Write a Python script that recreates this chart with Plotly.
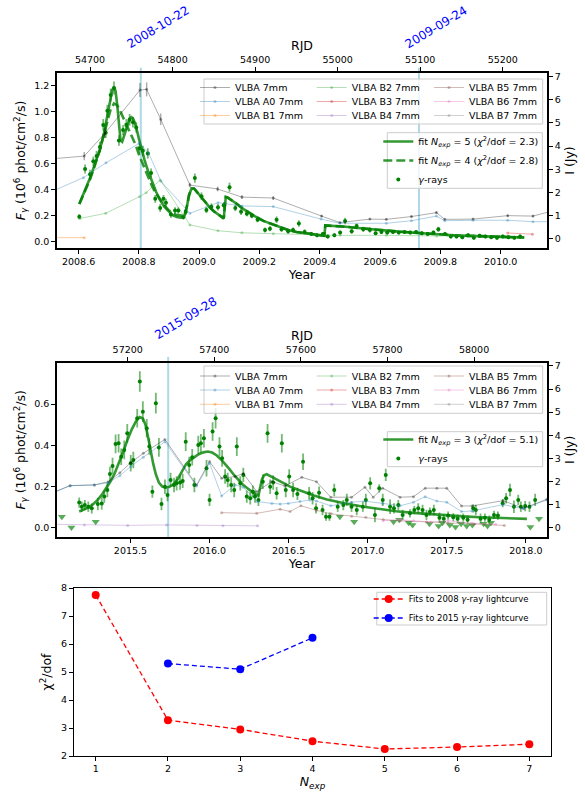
import plotly.graph_objects as go

W, H = 585, 792
FONT = "DejaVu Sans"

# ======================= DATA : 2008 flare =======================
year_ticks_08 = [2008.6, 2008.8, 2009.0, 2009.2, 2009.4, 2009.6, 2009.8, 2010.0]
rjd_ticks_08 = [54700, 54800, 54900, 55000, 55100, 55200]
flare_dates_08 = ["2008-10-22", "2009-09-24"]
flare_rjd_08 = [54761.5, 55098.5]

g08_rjd = [54687, 54694, 54700, 54704, 54708, 54712, 54716, 54719, 54721, 54725,
           54729, 54735, 54740, 54744, 54748, 54752, 54756, 54760, 54764, 54770,
           54774, 54779, 54785, 54789, 54792, 54798, 54803, 54807, 54813, 54816,
           54827, 54835, 54841, 54847, 54855, 54862, 54869, 54876, 54883, 54890,
           54896, 54903, 54912, 54918, 54926, 54932, 54940, 54946, 54953, 54960,
           54968, 54975, 54982, 54988, 54996, 55003, 55009, 55017, 55023, 55031,
           55039, 55046, 55053, 55060, 55067, 55074, 55081, 55088, 55095, 55102,
           55109, 55116, 55122, 55130, 55137, 55144, 55151, 55158, 55165, 55172,
           55179, 55186, 55193, 55200, 55207, 55214, 55221]
g08_flux = [0.193, 0.56, 0.52, 0.62, 0.66, 0.73, 0.90, 0.84, 1.01, 1.13,
            1.185, 0.78, 0.86, 0.90, 0.94, 0.92, 0.88, 0.72, 0.70, 0.68,
            0.53, 0.33, 0.26, 0.33, 0.30, 0.21, 0.24, 0.24, 0.19, 0.23,
            0.49, 0.35, 0.245, 0.27, 0.265, 0.28, 0.42, 0.26, 0.23, 0.215,
            0.20, 0.17, 0.09, 0.10, 0.17, 0.095, 0.08, 0.09, 0.14, 0.075,
            0.06, 0.05, 0.06, 0.04, 0.05, 0.07, 0.16, 0.08, 0.12, 0.095,
            0.09, 0.065, 0.075, 0.07, 0.075, 0.07, 0.075, 0.07, 0.075, 0.065,
            0.06, 0.07, 0.095, 0.06, 0.04, 0.04, 0.035, 0.05, 0.03, 0.045,
            0.04, 0.035, 0.03, 0.04, 0.035, 0.03, 0.04]
g08_err = [0.02, 0.035, 0.035, 0.035, 0.04, 0.04, 0.045, 0.04, 0.045, 0.05,
           0.05, 0.04, 0.04, 0.045, 0.045, 0.04, 0.04, 0.04, 0.04, 0.04,
           0.035, 0.03, 0.03, 0.03, 0.03, 0.025, 0.025, 0.025, 0.02, 0.025,
           0.035, 0.03, 0.025, 0.025, 0.025, 0.025, 0.035, 0.025, 0.025, 0.02,
           0.02, 0.02, 0.02, 0.02, 0.025, 0.02, 0.02, 0.02, 0.025, 0.02,
           0.015, 0.015, 0.015, 0.015, 0.015, 0.015, 0.025, 0.02, 0.02, 0.02,
           0.02, 0.015, 0.015, 0.015, 0.015, 0.015, 0.015, 0.015, 0.015, 0.015,
           0.015, 0.015, 0.02, 0.015, 0.015, 0.015, 0.015, 0.015, 0.015, 0.015,
           0.015, 0.015, 0.015, 0.015, 0.015, 0.015, 0.015]

fit5_rjd = [54687, 54694, 54700, 54706, 54712, 54717, 54721, 54724, 54727, 54729.5,
            54731, 54733, 54735, 54737, 54739, 54742, 54745, 54748, 54750, 54752,
            54754, 54756, 54759, 54762, 54766, 54770, 54775, 54780, 54785, 54790,
            54795, 54800, 54805, 54810, 54814, 54817, 54820, 54823, 54826, 54830,
            54835, 54840, 54845, 54850, 54855, 54860, 54862, 54863, 54864.5, 54867,
            54872, 54878, 54885, 54892, 54900, 54910, 54920, 54930, 54940, 54950,
            54960, 54970, 54980, 54984, 54985, 54995, 55010, 55025, 55040, 55060,
            55080, 55100, 55120, 55140, 55160, 55180, 55200, 55226]
fit5_flux = [0.29, 0.40, 0.49, 0.60, 0.71, 0.84, 0.98, 1.09, 1.17, 1.19,
             1.16, 1.05, 0.88, 0.78, 0.77, 0.83, 0.90, 0.95, 0.96, 0.95,
             0.92, 0.88, 0.80, 0.72, 0.63, 0.55, 0.46, 0.385, 0.32, 0.27,
             0.235, 0.205, 0.19, 0.185, 0.19, 0.26, 0.36, 0.41, 0.41, 0.38,
             0.34, 0.30, 0.265, 0.235, 0.21, 0.19, 0.18, 0.25, 0.345, 0.34,
             0.32, 0.29, 0.255, 0.225, 0.195, 0.16, 0.135, 0.11, 0.09, 0.075,
             0.065, 0.055, 0.048, 0.045, 0.125, 0.122, 0.115, 0.105, 0.095, 0.085,
             0.075, 0.065, 0.057, 0.05, 0.045, 0.04, 0.036, 0.032]

fit4_rjd = [54687, 54694, 54700, 54706, 54712, 54717, 54721, 54725, 54729, 54733,
            54737, 54741, 54745, 54750, 54755, 54760, 54765, 54770, 54775, 54780,
            54785, 54790, 54795, 54800, 54805, 54810, 54814, 54817, 54820, 54823,
            54826, 54830, 54835, 54840, 54845, 54850, 54855, 54860, 54862, 54863,
            54864.5, 54867, 54872, 54878, 54885, 54892, 54900, 54910, 54920, 54930,
            54940, 54950, 54960, 54970, 54980, 54984, 54985, 54995, 55010, 55025,
            55040, 55060, 55080, 55100, 55120, 55140, 55160, 55180, 55200, 55226]
fit4_flux = [0.29, 0.39, 0.48, 0.59, 0.71, 0.83, 0.93, 1.02, 1.065, 1.05,
             1.00, 0.95, 0.89, 0.82, 0.75, 0.66, 0.58, 0.50, 0.43, 0.37,
             0.32, 0.28, 0.245, 0.22, 0.205, 0.20, 0.20, 0.26, 0.36, 0.41,
             0.41, 0.38, 0.34, 0.30, 0.265, 0.235, 0.21, 0.19, 0.18, 0.25,
             0.345, 0.34, 0.32, 0.29, 0.255, 0.225, 0.195, 0.16, 0.135, 0.11,
             0.09, 0.075, 0.065, 0.055, 0.048, 0.045, 0.125, 0.122, 0.115, 0.105,
             0.095, 0.085, 0.075, 0.065, 0.057, 0.05, 0.045, 0.04, 0.036, 0.032]

# VLBA 7mm components, 2008 (Jy)
v08_core_rjd = [54640, 54693, 54718, 54760.5, 54768.6, 54785.6, 54821, 54854.6, 54884, 54922,
                54980.5, 55002.7, 55039, 55059, 55089.4, 55119.6, 55129.7, 55164, 55206, 55236.6, 55265]
v08_core_jy = [3.41, 3.57, 4.55, 6.42, 6.45, 5.16, 2.32, 2.15, 1.80, 1.76,
               0.98, 0.70, 0.85, 0.84, 0.96, 1.13, 0.84, 0.85, 1.00, 0.98, 1.25]
v08_core_err = [0.15, 0.18, 0.2, 0.3, 0.3, 0.25, 0.1, 0.1, 0.08, 0.08,
                0.05, 0.04, 0.04, 0.04, 0.05, 0.05, 0.04, 0.04, 0.05, 0.05, 0.06]
v08_a0_rjd = [54640, 54692, 54719.4, 54759.7, 54771, 54786, 54821, 54855, 54884, 54922,
              54980, 55002.7, 55059, 55089.4, 55119.6, 55129.7, 55164, 55206, 55236.6, 55265]
v08_a0_jy = [1.83, 2.64, 3.28, 4.12, 3.70, 2.48, 1.10, 1.56, 1.42, 1.39,
             0.85, 0.67, 0.67, 0.78, 0.98, 0.78, 0.80, 0.80, 0.74, 0.74]
v08_b1_rjd = [54640, 54693]
v08_b1_jy = [0.05, 0.05]
v08_b2_rjd = [54688, 54719, 54760, 54768, 54785, 54821, 54855, 54884, 54922, 55003, 55059, 55120, 55165]
v08_b2_jy = [0.88, 1.10, 1.82, 1.99, 2.54, 0.60, 0.35, 0.26, 0.22, 0.15, 0.15, 0.12, 0.15]
v08_b3_rjd = [55206, 55236]
v08_b3_jy = [0.25, 0.20]

# ======================= DATA : 2015 flare =======================
year_ticks_15 = [2015.5, 2016.0, 2016.5, 2017.0, 2017.5, 2018.0]
rjd_ticks_15 = [57200, 57400, 57600, 57800, 58000]
flare_dates_15 = ["2015-09-28"]
flare_rjd_15 = [57293.5]

g15_rjd = [57088, 57094, 57101, 57109, 57117, 57131, 57140, 57146, 57153, 57159,
           57165, 57172, 57179, 57185, 57192, 57199, 57207, 57213, 57222, 57228,
           57235, 57244, 57250, 57257, 57265, 57272, 57278, 57286, 57292, 57299,
           57307, 57313, 57321, 57327, 57334, 57342, 57349, 57354, 57363, 57369,
           57376, 57382, 57389, 57396, 57403, 57412, 57418, 57425, 57431, 57439,
           57446, 57452, 57460, 57467, 57475, 57483, 57489, 57494, 57502, 57512,
           57523, 57529, 57536, 57544, 57556, 57565, 57573, 57582, 57592, 57605,
           57619, 57627, 57635, 57642, 57650, 57658, 57666, 57677, 57685, 57698,
           57706, 57717, 57729, 57743, 57750, 57760, 57771, 57781, 57789, 57796,
           57806, 57815, 57825, 57835, 57852, 57862, 57871, 57881, 57890, 57898,
           57907, 57920, 57930, 57940, 57952, 57962, 57975, 57985, 57998, 58004,
           58015, 58025, 58035, 58046, 58055, 58066, 58074, 58083, 58092, 58102,
           58108, 58118, 58128, 58141]
g15_flux = [0.123, 0.103, 0.111, 0.103, 0.095, 0.116, 0.119, 0.152, 0.184, 0.261,
            0.30, 0.407, 0.41, 0.345, 0.378, 0.458, 0.313, 0.329, 0.531, 0.709,
            0.563, 0.483, 0.394, 0.176, 0.604, 0.39, 0.116, 0.20, 0.16, 0.232,
            0.208, 0.216, 0.22, 0.228, 0.418, 0.305, 0.342, 0.208, 0.402, 0.41,
            0.434, 0.289, 0.136, 0.467, 0.531, 0.394, 0.337, 0.249, 0.232, 0.208,
            0.184, 0.394, 0.216, 0.257, 0.152, 0.144, 0.176, 0.152, 0.136, 0.224,
            0.458, 0.20, 0.22, 0.168, 0.41, 0.184, 0.249, 0.184, 0.165, 0.321,
            0.168, 0.144, 0.095, 0.171, 0.087, 0.055, 0.055, 0.184, 0.103, 0.111,
            0.136, 0.103, 0.087, 0.103, 0.136, 0.216, 0.063, 0.192, 0.136, 0.257,
            0.103, 0.095, 0.111, 0.063, 0.071, 0.087, 0.095, 0.087, 0.063, 0.079,
            0.087, 0.05, 0.045, 0.06, 0.052, 0.045, 0.05, 0.04, 0.095, 0.087,
            0.045, 0.05, 0.04, 0.063, 0.06, 0.12, 0.144, 0.184, 0.103, 0.136,
            0.103, 0.106, 0.103, 0.136]
g15_err = [.025, .025, .025, .025, .025, .03, .03, .03, .035, .035,
           .04, .045, .045, .04, .045, .045, .04, .04, .045, .05,
           .05, .045, .04, .03, .05, .045, .03, .035, .03, .035,
           .035, .035, .035, .035, .045, .04, .04, .035, .045, .045,
           .045, .04, .03, .045, .05, .045, .04, .035, .035, .035,
           .035, .045, .035, .035, .03, .03, .03, .03, .03, .035,
           .045, .035, .035, .03, .045, .035, .035, .035, .03, .04,
           .03, .03, .025, .03, .025, .02, .02, .03, .025, .025,
           .03, .025, .025, .025, .03, .03, .035, .02, .03, .03,
           .035, .025, .025, .025, .02, .02, .025, .025, .025, .02,
           .025, .025, .02, .02, .02, .02, .02, .02, .02, .025,
           .025, .02, .02, .02, .02, .02, .025, .03, .03, .025,
           .025, .025, .025, .03]

ul15_rjd = [57048, 57070, 57126, 57690, 57723, 57814, 57827, 57849, 57858, 57897,
            57918, 57927, 57944, 57957, 57970, 57983, 57996, 58022, 58031, 58039,
            58130, 58150]
ul15_flux = [0.055, 0.002, 0.03, 0.055, 0.03, 0.03, 0.04, 0.025, 0.015, 0.02,
             0.01, 0.025, 0.015, 0.005, 0.02, 0.01, 0.015, 0.02, 0.01, 0.025,
             0.005, 0.045]

fit3_rjd = [57088, 57100, 57110, 57120, 57130, 57140, 57150, 57160, 57170, 57180,
            57190, 57200, 57210, 57220, 57228, 57235, 57241, 57247, 57253, 57259,
            57265, 57272, 57280, 57288, 57295, 57305, 57315, 57325, 57335, 57345,
            57355, 57365, 57375, 57385, 57395, 57405, 57415, 57425, 57435, 57445,
            57455, 57465, 57475, 57485, 57495, 57502, 57506, 57510, 57515, 57521,
            57535, 57552, 57575, 57600, 57630, 57660, 57706, 57745, 57783, 57820,
            57860, 57900, 57937, 57975, 58014, 58050, 58090, 58122]
fit3_flux = [0.08, 0.09, 0.10, 0.115, 0.135, 0.16, 0.19, 0.225, 0.265, 0.315,
             0.37, 0.43, 0.48, 0.52, 0.537, 0.53, 0.50, 0.44, 0.37, 0.31,
             0.26, 0.22, 0.20, 0.195, 0.198, 0.21, 0.235, 0.27, 0.31, 0.33,
             0.345, 0.358, 0.366, 0.37, 0.365, 0.352, 0.333, 0.31, 0.285, 0.258,
             0.233, 0.212, 0.195, 0.178, 0.163, 0.157, 0.19, 0.235, 0.255, 0.26,
             0.245, 0.226, 0.20, 0.18, 0.157, 0.138, 0.117, 0.103, 0.091, 0.081,
             0.073, 0.066, 0.06, 0.056, 0.052, 0.049, 0.046, 0.044]

v15_core_rjd = [57020, 57067, 57123, 57155, 57182, 57207, 57236, 57286, 57359, 57389,
                57417, 57448, 57467, 57498, 57533, 57563, 57602, 57636, 57669, 57717,
                57748, 57767, 57789, 57829, 57860, 57887, 57914, 57937, 57971, 57995,
                58067, 58114, 58168, 58200]
v15_core_jy = [1.46, 1.82, 1.85, 1.99, 2.38, 2.81, 3.22, 3.82, 1.85, 2.86,
               2.14, 2.21, 2.35, 1.56, 2.00, 1.80, 2.18, 1.99, 1.32, 1.32,
               1.75, 1.32, 1.71, 1.32, 1.34, 1.71, 1.71, 1.71, 0.94, 0.94,
               1.17, 0.84, 1.23, 1.40]
v15_a0_rjd = [57020, 57067, 57123, 57155, 57182, 57207, 57236, 57286, 57359, 57389,
              57417, 57448, 57467, 57499, 57533, 57552, 57571, 57598, 57621, 57636,
              57669, 57717, 57748, 57789, 57829, 57860, 57887, 57914, 57937, 57971,
              57995, 58067, 58114, 58168, 58200]
v15_a0_jy = [1.46, 1.82, 1.85, 1.95, 2.25, 2.65, 3.05, 3.72, 1.80, 2.79,
             1.37, 1.85, 1.75, 1.13, 1.05, 1.02, 1.05, 1.13, 1.20, 1.15,
             0.95, 1.10, 1.15, 1.05, 0.95, 1.10, 1.34, 1.15, 1.10, 0.70,
             0.72, 1.00, 0.82, 1.20, 1.30]
v15_b4_rjd = [57020, 57100, 57200, 57290, 57360, 57420, 57500]
v15_b4_jy = [0.15, 0.12, 0.10, 0.12, 0.10, 0.08, 0.08]
v15_b5_rjd = [57417, 57498, 57552, 57575, 57600, 57636, 57670, 57717, 57750, 57790,
              57830, 57890, 57940, 58000, 58070]
v15_b5_jy = [0.65, 0.62, 0.80, 0.70, 0.95, 0.75, 0.60, 0.50, 0.45, 0.35,
             0.30, 0.25, 0.20, 0.15, 0.10]
v15_b6_rjd = [57790, 57830, 57860, 57900, 57940, 57995, 58050]
v15_b6_jy = [0.30, 0.35, 0.30, 0.25, 0.30, 0.20, 0.15]

# ======================= DATA : chi2 vs N_exp =======================
nexp_08 = [1, 2, 3, 4, 5, 6, 7]
chi2_08 = [7.75, 3.28, 2.95, 2.53, 2.25, 2.32, 2.42]
nexp_15 = [2, 3, 4]
chi2_15 = [5.30, 5.10, 6.22]

for a, b in [(g08_rjd, g08_flux), (g08_rjd, g08_err), (fit5_rjd, fit5_flux), (fit4_rjd, fit4_flux),
             (v08_core_rjd, v08_core_jy), (v08_core_rjd, v08_core_err), (v08_a0_rjd, v08_a0_jy),
             (v08_b2_rjd, v08_b2_jy), (g15_rjd, g15_flux), (g15_rjd, g15_err), (ul15_rjd, ul15_flux),
             (fit3_rjd, fit3_flux), (v15_core_rjd, v15_core_jy), (v15_a0_rjd, v15_a0_jy),
             (v15_b5_rjd, v15_b5_jy), (v15_b6_rjd, v15_b6_jy)]:
    assert len(a) == len(b), (len(a), len(b))


def year_to_rjd(y):
    return 51545.0 + (y - 2000.0) * 365.25


# ======================= STYLE =======================
C_GREEN = "#008000"
VLBA_COLORS = {
    "7mm": "rgba(0,0,0,0.32)", "A0": "rgba(31,119,180,0.35)", "B1": "rgba(255,127,14,0.4)",
    "B2": "rgba(44,160,44,0.35)", "B3": "rgba(214,39,40,0.4)", "B4": "rgba(148,103,189,0.35)",
    "B5": "rgba(140,86,75,0.4)", "B6": "rgba(227,119,194,0.4)", "B7": "rgba(127,127,127,0.35)",
}
VLBA_ORDER = ["7mm", "A0", "B1", "B2", "B3", "B4", "B5", "B6", "B7"]


def px(x):
    return x / W


def py(y):
    return 1 - y / H


fig = go.Figure()


def add_vlba(comp, rjd, jy, xa, ya, legend, err=None):
    name = "VLBA 7mm" if comp == "7mm" else f"VLBA {comp} 7mm"
    col = VLBA_COLORS[comp]
    kw = {}
    if err is not None:
        kw["error_y"] = dict(type="data", array=err, color=col, thickness=1.5, width=0)
    fig.add_trace(go.Scatter(
        x=rjd if rjd else [None], y=jy if jy else [None], mode="lines+markers", name=name,
        line=dict(color=col, width=1), marker=dict(size=3, color=col),
        xaxis=xa, yaxis=ya, legend=legend, hoverinfo="skip", **kw))


# ---------- panel 1 : VLBA on (x2, y2) ----------
p1_vlba = {"7mm": (v08_core_rjd, v08_core_jy, v08_core_err), "A0": (v08_a0_rjd, v08_a0_jy, None),
           "B1": (v08_b1_rjd, v08_b1_jy, None), "B2": (v08_b2_rjd, v08_b2_jy, None),
           "B3": (v08_b3_rjd, v08_b3_jy, None), "B4": ([], [], None), "B5": ([], [], None),
           "B6": ([], [], None), "B7": ([], [], None)}
for i, comp in enumerate(VLBA_ORDER):
    r, j, e = p1_vlba[comp]
    add_vlba(comp, r, j, "x2", "y2", "legend" if i == 0 else f"legend{i + 1}", e)

fig.add_trace(go.Scatter(x=fit5_rjd, y=fit5_flux, mode="lines",
                         name="fit <i>N<sub>exp</sub></i> = 5 (<i>χ</i><sup>2</sup>/dof = 2.3)",
                         line=dict(color="rgba(0,128,0,0.8)", width=2.6),
                         xaxis="x", yaxis="y", legend="legend10", hoverinfo="skip"))
fig.add_trace(go.Scatter(x=fit4_rjd, y=fit4_flux, mode="lines",
                         name="fit <i>N<sub>exp</sub></i> = 4 (<i>χ</i><sup>2</sup>/dof = 2.8)",
                         line=dict(color="rgba(0,128,0,0.8)", width=2.6, dash="9px,4px"),
                         xaxis="x", yaxis="y", legend="legend10", hoverinfo="skip"))
fig.add_trace(go.Scatter(x=g08_rjd, y=g08_flux, mode="markers", name="<i>γ</i>-rays",
                         marker=dict(size=4, color=C_GREEN),
                         error_y=dict(type="data", array=g08_err, color="rgba(0,128,0,0.55)",
                                      thickness=1.8, width=0),
                         xaxis="x", yaxis="y", legend="legend10", hoverinfo="skip"))

# ---------- panel 2 : VLBA on (x4, y4) ----------
p2_vlba = {"7mm": (v15_core_rjd, v15_core_jy), "A0": (v15_a0_rjd, v15_a0_jy), "B1": ([], []),
           "B2": ([], []), "B3": ([], []), "B4": (v15_b4_rjd, v15_b4_jy), "B5": (v15_b5_rjd, v15_b5_jy),
           "B6": (v15_b6_rjd, v15_b6_jy), "B7": ([], [])}
for i, comp in enumerate(VLBA_ORDER):
    r, j = p2_vlba[comp]
    add_vlba(comp, r, j, "x4", "y4", f"legend{i + 11}")

fig.add_trace(go.Scatter(x=fit3_rjd, y=fit3_flux, mode="lines",
                         name="fit <i>N<sub>exp</sub></i> = 3 (<i>χ</i><sup>2</sup>/dof = 5.1)",
                         line=dict(color="rgba(0,128,0,0.8)", width=2.6),
                         xaxis="x3", yaxis="y3", legend="legend20", hoverinfo="skip"))
fig.add_trace(go.Scatter(x=g15_rjd, y=g15_flux, mode="markers", name="<i>γ</i>-rays",
                         marker=dict(size=4, color=C_GREEN),
                         error_y=dict(type="data", array=g15_err, color="rgba(0,128,0,0.55)",
                                      thickness=1.8, width=0),
                         xaxis="x3", yaxis="y3", legend="legend20", hoverinfo="skip"))
fig.add_trace(go.Scatter(x=ul15_rjd, y=ul15_flux, mode="markers", showlegend=False,
                         marker=dict(size=7, symbol="triangle-down", color="rgba(0,128,0,0.65)"),
                         xaxis="x3", yaxis="y3", hoverinfo="skip"))

# ---------- panel 3 ----------
fig.add_trace(go.Scatter(x=nexp_08, y=chi2_08, mode="lines+markers",
                         name="Fits to 2008 <i>γ</i>-ray lightcurve",
                         line=dict(color="#ff0000", width=1.3, dash="5px,3px"),
                         marker=dict(size=8, color="#ff0000"),
                         xaxis="x5", yaxis="y5", legend="legend21", hoverinfo="skip"))
fig.add_trace(go.Scatter(x=nexp_15, y=chi2_15, mode="lines+markers",
                         name="Fits to 2015 <i>γ</i>-ray lightcurve",
                         line=dict(color="#0000ff", width=1.3, dash="5px,3px"),
                         marker=dict(size=8, color="#0000ff"),
                         xaxis="x5", yaxis="y5", legend="legend21", hoverinfo="skip"))

# ======================= LAYOUT =======================
tickfont = dict(family=FONT, size=9.5, color="black")
titlefont = dict(family=FONT, size=12.5, color="black")


def ax_common(lw=1.5):
    return dict(showline=True, linecolor="black", linewidth=lw, ticks="outside", ticklen=4,
                tickwidth=1, tickcolor="black", showgrid=False, zeroline=False,
                tickfont=tickfont, automargin=False)


XDOM = [px(57), px(547)]
P1 = [py(248), py(73)]
P2 = [py(537), py(362.7)]
P3 = [py(756), py(588)]

r08 = [54660, 55253.6]
r15 = [57036.7, 58168.4]

ftitle = "<i>F</i><sub><i>γ</i></sub> (10<sup>6</sup> phot/cm<sup>2</sup>/s)"

layout = dict(
    width=W, height=H, autosize=False, margin=dict(l=0, r=0, t=0, b=0, autoexpand=False),
    paper_bgcolor="white", plot_bgcolor="white", font=dict(family=FONT, color="black"),
    showlegend=True,
    xaxis=dict(domain=XDOM, anchor="y", range=r08,
               tickvals=[year_to_rjd(y) for y in year_ticks_08],
               ticktext=[f"{y:.1f}" for y in year_ticks_08],
               title=dict(text="Year", font=titlefont, standoff=4), **ax_common()),
    xaxis2=dict(overlaying="x", side="top", anchor="y2", range=r08, tickvals=rjd_ticks_08,
                ticktext=[str(v) for v in rjd_ticks_08],
                title=dict(text="RJD", font=titlefont, standoff=1), **ax_common()),
    yaxis=dict(domain=P1, anchor="x", range=[-0.0486, 1.30], tickvals=[0, 0.2, 0.4, 0.6, 0.8, 1.0, 1.2],
               tickformat=".1f", title=dict(text=ftitle, font=titlefont, standoff=6), **ax_common()),
    yaxis2=dict(overlaying="y", side="right", anchor="x2", range=[-0.397, 7.156], dtick=1,
                title=dict(text="I (Jy)", font=titlefont, standoff=6), **ax_common()),
    xaxis3=dict(domain=XDOM, anchor="y3", range=r15,
                tickvals=[year_to_rjd(y) for y in year_ticks_15],
                ticktext=[f"{y:.1f}" for y in year_ticks_15],
                title=dict(text="Year", font=titlefont, standoff=4), **ax_common()),
    xaxis4=dict(overlaying="x3", side="top", anchor="y4", range=r15, tickvals=rjd_ticks_15,
                ticktext=[str(v) for v in rjd_ticks_15],
                title=dict(text="RJD", font=titlefont, standoff=1), **ax_common()),
    yaxis3=dict(domain=P2, anchor="x3", range=[-0.0436, 0.80], tickvals=[0, 0.2, 0.4, 0.6],
                tickformat=".1f", title=dict(text=ftitle, font=titlefont, standoff=6), **ax_common()),
    yaxis4=dict(overlaying="y3", side="right", anchor="x4", range=[-0.403, 7.14], dtick=1,
                title=dict(text="I (Jy)", font=titlefont, standoff=6), **ax_common()),
    xaxis5=dict(domain=[px(74), px(551)], anchor="y5", range=[0.7, 7.3], dtick=1, mirror=True,
                title=dict(text="<i>N<sub>exp</sub></i>", font=titlefont, standoff=0), **ax_common(1)),
    yaxis5=dict(domain=P3, anchor="x5", range=[2, 8], dtick=1, mirror=True,
                title=dict(text="χ<sup>2</sup>/dof", font=titlefont, standoff=6), **ax_common(1)),
)


def leg(text_left, yc, size=9.5):
    return dict(x=px(text_left - 40), y=py(yc), xanchor="left", yanchor="middle",
                bgcolor="rgba(0,0,0,0)", borderwidth=0, orientation="v",
                font=dict(family=FONT, size=size, color="black"), tracegroupgap=0)


col_x = [235, 351.7, 469]
rows1 = [87.5, 101.5, 115.5]
rows2 = [376, 390, 404.3]
for i in range(9):
    c, r = divmod(i, 3)
    key1 = "legend" if i == 0 else f"legend{i + 1}"
    layout[key1] = leg(col_x[c], rows1[r])
    layout[f"legend{i + 11}"] = leg(col_x[c], rows2[r])
layout["legend10"] = leg(418.3, 160.5)
layout["legend20"] = leg(418.3, 449)
layout["legend21"] = leg(408.7, 608.5, 8.5)

fig.update_layout(**layout)

# legend frames
frames = [(204, 79, 542.7, 124), (387.3, 132.7, 542.3, 188.3),
          (204, 366, 542.7, 413.3), (387.3, 431.7, 542.7, 466.7),
          (376.8, 592.3, 546.7, 625)]
for x0, y0, x1, y1 in frames:
    fig.add_shape(type="rect", xref="paper", yref="paper", x0=px(x0), x1=px(x1), y0=py(y1), y1=py(y0),
                  fillcolor="rgba(255,255,255,0.8)", line=dict(color="#cccccc", width=1), layer="above")

# flare marker lines and date labels
for d, r in zip(flare_dates_08, flare_rjd_08):
    fig.add_shape(type="line", xref="x", yref="y domain", x0=r, x1=r, y0=0, y1=1.03,
                  line=dict(color="#add8e6", width=2), layer="below")
    fig.add_annotation(x=r, xref="x", y=py(26.6), yref="paper", text=d, showarrow=False,
                       xanchor="center", yanchor="middle",
                       textangle=-31, xshift=17.5, font=dict(family=FONT, size=12, color="#0000ff"))
for d, r in zip(flare_dates_15, flare_rjd_15):
    fig.add_shape(type="line", xref="x3", yref="y3 domain", x0=r, x1=r, y0=0, y1=1.033,
                  line=dict(color="#add8e6", width=2), layer="below")
    fig.add_annotation(x=r, xref="x3", y=py(318.3), yref="paper", text=d, showarrow=False,
                       xanchor="center", yanchor="middle",
                       textangle=-31, xshift=18, font=dict(family=FONT, size=12, color="#0000ff"))

fig.write_html("out.html", config={"displayModeBar": False, "staticPlot": False},
               post_script="document.body.style.margin='0px';document.body.style.overflow='hidden';")
